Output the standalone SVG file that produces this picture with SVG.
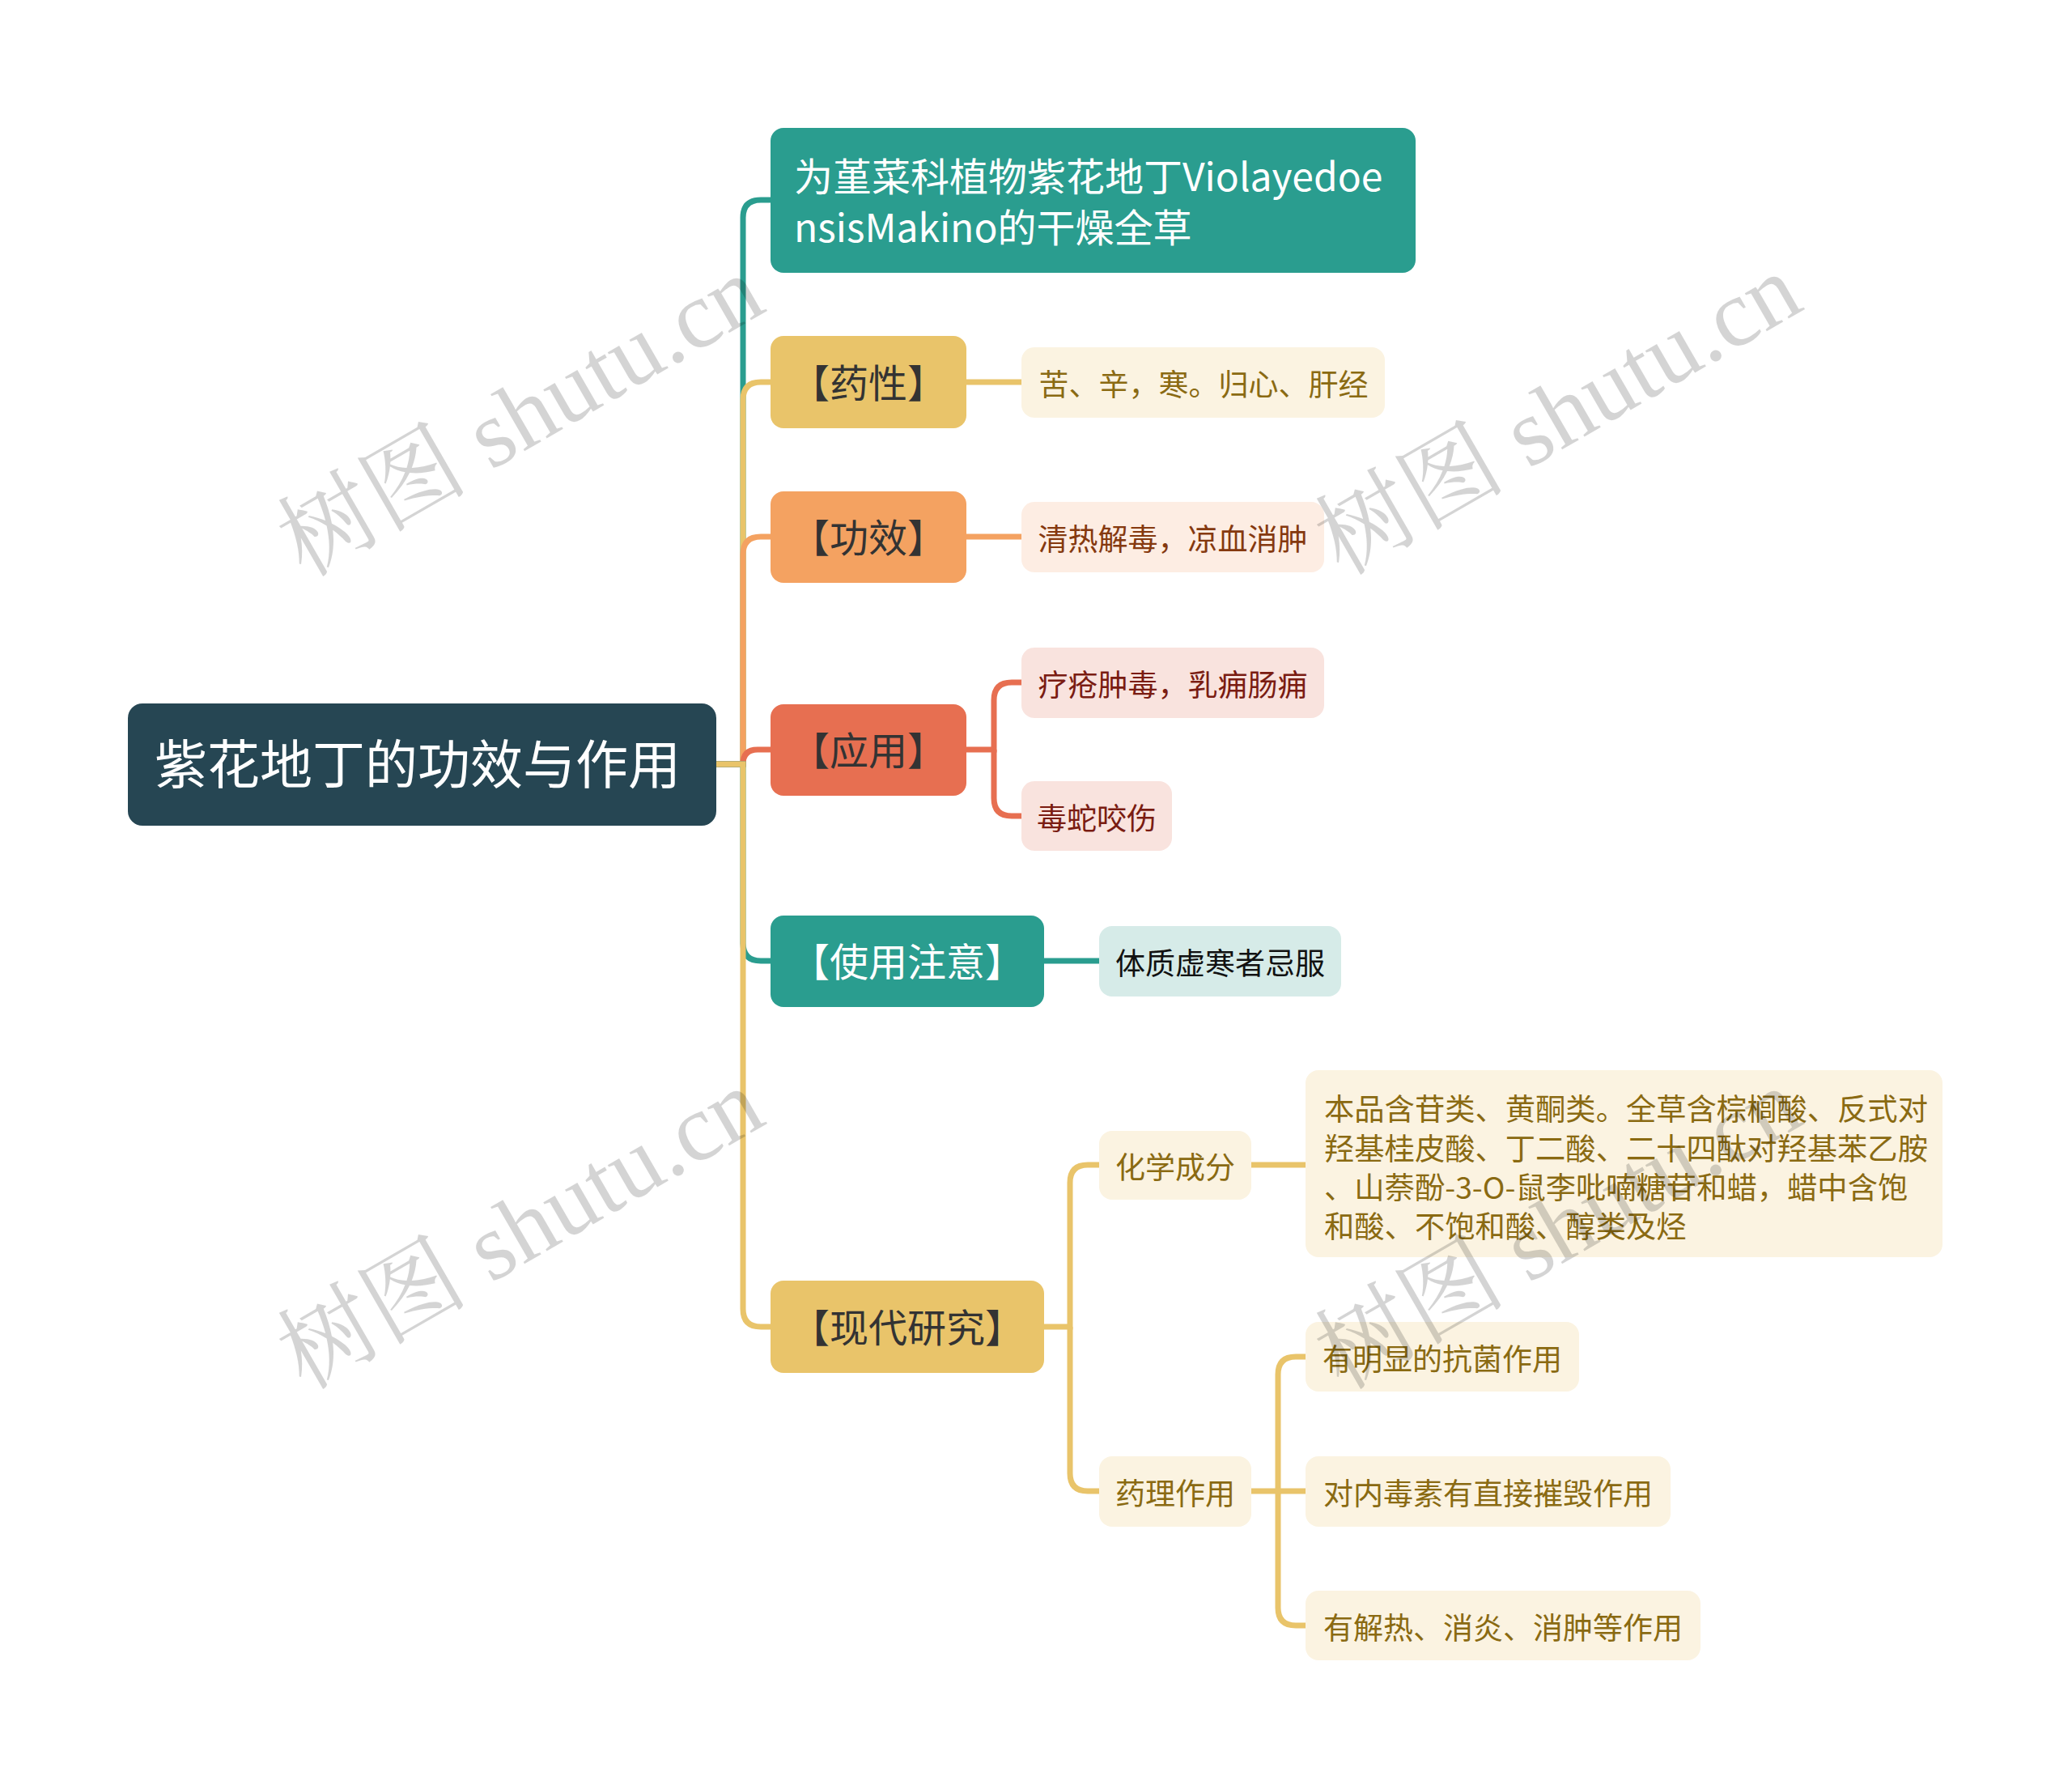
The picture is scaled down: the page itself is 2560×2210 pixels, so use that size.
<svg xmlns="http://www.w3.org/2000/svg" width="2560" height="2210" viewBox="0 0 2560 2210">
<style>
text{font-family:"Noto Sans CJK SC","Noto Sans",sans-serif}
.conn path{fill:none;stroke-width:7;stroke-linecap:butt}
.teal{stroke:#2a9d8f}.yel{stroke:#e9c46a}.org{stroke:#f4a261}.red{stroke:#e76f51}
.tag{font-size:48px;text-anchor:middle}
.leaf{font-size:37px;text-anchor:middle}
.wm{font-family:"Liberation Serif","Noto Serif CJK SC","Noto Sans CJK SC",serif;font-size:118px;fill:#000;fill-opacity:0.17;text-anchor:middle}
</style>
<rect width="2560" height="2210" fill="#ffffff"/>
<g class="conn" id="connectors">
<path class="teal" d="M885 944 H918 V269 Q918 247 940 247 H952"/>
<path class="yel" d="M885 944 H918 V494 Q918 472 940 472 H952"/>
<path class="org" d="M885 944 H918 V685 Q918 663 940 663 H952"/>
<path class="red" d="M885 944 H918 V944 Q918 926 936 926 H952"/>
<path class="teal" d="M885 944 H918 V1165 Q918 1187 940 1187 H952"/>
<path class="yel" d="M885 944 H918 V1617 Q918 1639 940 1639 H952"/>
<path class="yel" d="M1194 472 H1262"/>
<path class="org" d="M1194 663 H1262"/>
<path class="red" d="M1194 926 H1228 V865 Q1228 843 1250 843 H1262"/>
<path class="red" d="M1228 926 V986 Q1228 1008 1250 1008 H1262"/>
<path class="teal" d="M1290 1187 H1358"/>
<path class="yel" d="M1290 1639 H1322 V1461 Q1322 1439 1344 1439 H1358"/>
<path class="yel" d="M1322 1639 V1820 Q1322 1842 1344 1842 H1358"/>
<path class="yel" d="M1546 1439 H1613"/>
<path class="yel" d="M1546 1842 H1579 V1698 Q1579 1676 1601 1676 H1613"/>
<path class="yel" d="M1579 1842 H1613"/>
<path class="yel" d="M1579 1842 V1986 Q1579 2008 1601 2008 H1613"/>
</g>
<g id="root">
<rect x="158" y="869" width="727" height="151" rx="18" fill="#264653"/>
<text x="516" y="968" font-size="65" fill="#ffffff" text-anchor="middle">紫花地丁的功效与作用</text>
</g>
<g id="n-origin">
<rect x="952" y="158" width="797" height="179" rx="16" fill="#2a9d8f"/>
<text x="981" y="236" font-size="48" fill="#ffffff">为堇菜科植物紫花地丁Violayedoe</text>
<text x="981" y="299" font-size="48" fill="#ffffff">nsisMakino的干燥全草</text>
</g>
<g id="n-yaoxing">
<rect x="952" y="415" width="242" height="114" rx="16" fill="#e9c46a"/>
<text class="tag" x="1073" y="491" fill="#333333">【药性】</text>
</g>
<g id="n-yaoxing-1">
<rect x="1262" y="429" width="449" height="87" rx="16" fill="#fbf3e1"/>
<text class="leaf" x="1487" y="489" fill="#8a6a12">苦、辛，寒。归心、肝经</text>
</g>
<g id="n-gongxiao">
<rect x="952" y="607" width="242" height="113" rx="16" fill="#f4a261"/>
<text class="tag" x="1073" y="682" fill="#333333">【功效】</text>
</g>
<g id="n-gongxiao-1">
<rect x="1262" y="620" width="374" height="87" rx="16" fill="#fdede3"/>
<text class="leaf" x="1449" y="680" fill="#85390f">清热解毒，凉血消肿</text>
</g>
<g id="n-yingyong">
<rect x="952" y="870" width="242" height="113" rx="16" fill="#e76f51"/>
<text class="tag" x="1073" y="945" fill="#333333">【应用】</text>
</g>
<g id="n-yingyong-1">
<rect x="1262" y="800" width="374" height="87" rx="16" fill="#f9e3de"/>
<text class="leaf" x="1449" y="860" fill="#7a1c12">疗疮肿毒，乳痈肠痈</text>
</g>
<g id="n-yingyong-2">
<rect x="1262" y="965" width="186" height="86" rx="16" fill="#f9e3de"/>
<text class="leaf" x="1355" y="1025" fill="#7a1c12">毒蛇咬伤</text>
</g>
<g id="n-zhuyi">
<rect x="952" y="1131" width="338" height="113" rx="16" fill="#2a9d8f"/>
<text class="tag" x="1121" y="1206" fill="#ffffff">【使用注意】</text>
</g>
<g id="n-zhuyi-1">
<rect x="1358" y="1144" width="299" height="87" rx="16" fill="#d6ebe8"/>
<text class="leaf" x="1507.5" y="1204" fill="#111111">体质虚寒者忌服</text>
</g>
<g id="n-yanjiu">
<rect x="952" y="1582" width="338" height="114" rx="16" fill="#e9c46a"/>
<text class="tag" x="1121" y="1658" fill="#333333">【现代研究】</text>
</g>
<g id="n-huaxue">
<rect x="1358" y="1397" width="188" height="85" rx="16" fill="#fbf3e1"/>
<text class="leaf" x="1452" y="1456" fill="#8a6a12">化学成分</text>
</g>
<g id="n-huaxue-1">
<rect x="1613" y="1322" width="787" height="231" rx="16" fill="#fbf3e1"/>
<text x="1636" y="1384" font-size="37.3" fill="#8a6a12">本品含苷类、黄酮类。全草含棕榈酸、反式对</text>
<text x="1636" y="1433" font-size="37.3" fill="#8a6a12">羟基桂皮酸、丁二酸、二十四酞对羟基苯乙胺</text>
<text x="1636" y="1481" font-size="37.3" fill="#8a6a12">、山萘酚-3-O-鼠李吡喃糖苷和蜡，蜡中含饱</text>
<text x="1636" y="1529" font-size="37.3" fill="#8a6a12">和酸、不饱和酸、醇类及烃</text>
</g>
<g id="n-yaoli">
<rect x="1358" y="1799" width="188" height="87" rx="16" fill="#fbf3e1"/>
<text class="leaf" x="1452" y="1859" fill="#8a6a12">药理作用</text>
</g>
<g id="n-yaoli-1">
<rect x="1613" y="1633" width="338" height="86" rx="16" fill="#fbf3e1"/>
<text class="leaf" x="1782" y="1693" fill="#8a6a12">有明显的抗菌作用</text>
</g>
<g id="n-yaoli-2">
<rect x="1613" y="1799" width="451" height="87" rx="16" fill="#fbf3e1"/>
<text class="leaf" x="1838.5" y="1859" fill="#8a6a12">对内毒素有直接摧毁作用</text>
</g>
<g id="n-yaoli-3">
<rect x="1613" y="1965" width="488" height="86" rx="16" fill="#fbf3e1"/>
<text class="leaf" x="1857" y="2025" fill="#8a6a12">有解热、消炎、消肿等作用</text>
</g>
<g id="watermarks">
<text class="wm" transform="translate(643 514) rotate(-30)" y="40">树图 shutu.cn</text>
<text class="wm" transform="translate(1925 512) rotate(-30)" y="40">树图 shutu.cn</text>
<text class="wm" transform="translate(643 1518) rotate(-30)" y="40">树图 shutu.cn</text>
<text class="wm" transform="translate(1925 1518) rotate(-30)" y="40">树图 shutu.cn</text>
</g>
</svg>
